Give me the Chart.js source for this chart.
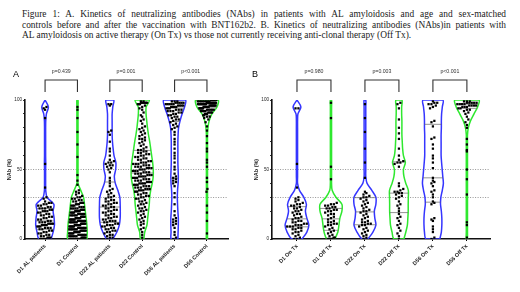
<!DOCTYPE html>
<html>
<head>
<meta charset="utf-8">
<script src="https://cdn.jsdelivr.net/npm/chart.js@4.4.1/dist/chart.umd.min.js"></script>
<style>
  body { margin: 0; width: 520px; height: 292px; background: #fff; position: relative; overflow: hidden; }
  #caption { position: absolute; left: 22px; top: 9px; width: 484px; font-family: "Liberation Serif", "Times New Roman", serif; font-size: 9.4px; line-height: 10.5px; color: #222; }
  #caption .j { text-align: justify; text-align-last: justify; }
  canvas { position: absolute; top: 60px; }
  #panelA { left: 0; }
  #panelB { left: 250px; }
</style>
</head>
<body>
<div id="caption">
  <div class="j">Figure 1: A. Kinetics of neutralizing antibodies (NAbs) in patients with AL amyloidosis and age and sex-matched</div>
  <div class="j">controls before and after the vaccination with BNT162b2. B. Kinetics of neutralizing antibodies (NAbs)in patients with</div>
  <div>AL amyloidosis on active therapy (On Tx) vs those not currently receiving anti-clonal therapy (Off Tx).</div>
</div>
<canvas id="panelA" width="250" height="232"></canvas>
<canvas id="panelB" width="270" height="232"></canvas>
<script>
// categories and p values
var catsA = ['D1 AL patients', 'D1 Control', 'D22 AL patients', 'D22 Control', 'D56 AL patients', 'D56 Control'];
var catsB = ['D1 On Tx', 'D1 Off Tx', 'D22 On Tx', 'D22 Off Tx', 'D56 On Tx', 'D56 Off Tx'];
var pA = ['p=0.439', 'p=0.001', 'p<0.001'];
var pB = ['p=0.980', 'p=0.003', 'p<0.001'];

// NAb (%) values, panel A
var d1AL = [0,0,0,0,0,1,1,1,2,2,3,3,4,4,5,5,6,6,7,7,8,8,8,9,9,9,10,10,10,10,11,11,11,11,12,12,12,13,13,14,14,15,15,16,16,17,17,18,18,19,19,20,20,20,21,21,22,22,22,23,23,24,24,25,25,26,26,27,29,30,37,54,87,93,94,95];
var d1Ctrl = [0,0,0,0,0,0,0,0,0,0,0,0,1,1,1,1,1,2,2,2,2,2,3,3,3,3,3,4,4,4,4,4,5,5,5,5,5,5,6,6,6,6,6,6,7,7,7,7,7,7,8,8,8,8,8,8,9,9,9,9,9,9,10,10,10,10,10,10,10,11,11,11,11,11,11,12,12,12,12,12,12,13,13,13,13,13,13,14,14,14,14,14,14,15,15,15,15,15,15,16,16,16,16,16,17,17,17,17,17,18,18,18,18,18,19,19,19,19,20,20,20,20,20,21,21,21,21,22,22,22,22,23,23,23,24,24,24,25,25,25,26,26,26,27,27,28,28,29,29,30,30,31,32,33,34,35,39,42,46,59,68,77,87,93,95];
var d22AL = [0,1,1,2,3,3,4,5,5,6,6,7,7,8,8,9,9,10,10,10,11,11,12,12,13,13,13,14,14,15,15,16,16,17,17,18,18,19,19,20,20,21,21,22,22,23,23,24,24,25,25,26,26,27,27,28,28,29,30,30,31,32,33,34,35,36,38,40,42,44,48,50,51,52,53,53,54,55,55,56,57,60,63,65,70,75,77,78,96,97,97];
var d22Ctrl = [1,3,5,7,8,10,11,12,13,14,15,16,17,18,19,20,20,21,22,22,23,24,25,25,26,27,27,28,29,29,30,30,31,31,32,32,33,33,34,34,35,35,35,36,36,36,37,37,37,38,38,38,39,39,39,40,40,40,40,41,41,41,42,42,42,43,43,43,44,44,44,45,45,45,45,46,46,46,47,47,47,48,48,48,49,49,49,50,50,50,51,51,51,52,52,52,53,53,53,54,54,54,55,55,55,56,56,57,57,58,58,59,59,60,60,61,61,62,62,63,63,64,64,65,66,67,68,69,70,71,72,72,73,74,75,76,77,78,79,80,81,83,85,86,88,89,91,93,94,95,96,97,97,97,98,98,98,98,98,98,99,99];
var d56AL = [0,1,3,5,8,10,11,12,13,14,15,17,20,25,30,33,38,40,41,42,43,44,45,47,50,52,55,58,60,62,65,68,70,72,75,77,79,80,81,82,83,84,85,86,86,87,88,88,89,89,90,90,91,91,92,92,92,93,93,93,94,94,94,95,95,95,95,96,96,96,96,97,97,97,97,97,98,98,98,98,98,99,99,99];
var d56Ctrl = [4,13,19,24,34,36,41,44,52,55,57,63,65,69,74,78,81,84,86,87,88,88,89,89,90,90,90,91,91,91,91,92,92,92,92,93,93,93,93,93,94,94,94,94,94,94,95,95,95,95,95,95,95,96,96,96,96,96,96,96,96,97,97,97,97,97,97,97,97,97,98,98,98,98,98,98,98,98,98,98,99,99,99,99,99,99,99,99,100,100,100,100];

// NAb (%) values, panel B
var d1On = [0,0,1,2,3,4,5,5,6,7,7,8,8,9,9,9,10,10,10,11,11,12,12,13,13,14,15,15,16,17,18,18,19,20,20,21,22,22,23,24,24,25,25,26,27,28,29,30,37,54,94,94];
var d1Off = [0,0,0,0,0,1,1,2,3,4,5,6,7,8,9,10,10,11,11,12,12,13,14,15,16,17,18,18,19,20,20,21,21,22,22,23,23,24,24,25,25,26,43,52,87,98];
var d22On = [0,1,2,3,4,5,6,7,8,9,10,10,11,11,12,12,13,14,15,16,17,18,19,20,20,21,22,23,24,25,26,27,28,29,30,30,31,32,33,34,44,55,65,77,87,97];
var d22Off = [0,2,4,6,8,10,11,13,15,16,18,20,22,24,25,27,29,30,31,32,33,33,34,34,35,36,38,40,52,54,55,55,56,57,60,65,72,76,80,86,94,97,98];
var d56On = [0,1,5,7,9,13,14,15,25,26,27,30,32,34,35,38,40,41,42,44,51,55,58,60,65,68,72,73,81,84,85,94,95,96,97,97,98,98,99];
var d56Off = [1,10,12,32,43,50,63,64,68,72,80,82,84,86,88,90,91,92,93,93,94,94,95,95,95,96,96,96,96,97,97,97,97,98,98,98,98,98,99,99,99];

// violin relative density at NAb = 0, 5, 10 ... 100
var levels = [0,5,10,15,20,25,30,35,40,45,50,55,60,65,70,75,80,85,90,95,100];
var shapeD1AL   = [0.55,0.73,0.85,0.82,0.73,0.8,0.18,0.06,0.05,0.05,0.05,0.06,0.05,0.05,0.05,0.05,0.05,0.06,0.12,0.3,0];
var shapeD1Ctrl = [0.86,0.89,0.86,0.79,0.71,0.64,0.55,0.3,0.05,0.05,0.05,0.05,0.05,0.05,0.05,0.05,0.05,0.05,0.05,0.05,0.05];
var shapeD22AL  = [0.27,0.64,0.86,0.94,0.95,0.94,0.91,0.73,0.5,0.41,0.53,0.55,0.38,0.3,0.24,0.21,0.21,0.21,0.21,0.27,0.35];
var shapeD22Ctrl= [0.15,0.23,0.43,0.5,0.57,0.64,0.68,0.77,0.91,1,1,0.95,0.86,0.77,0.68,0.57,0.48,0.41,0.35,0.36,0.64];
var shapeD56AL  = [0.3,0.32,0.34,0.34,0.3,0.27,0.25,0.27,0.32,0.34,0.32,0.3,0.3,0.3,0.3,0.32,0.36,0.5,0.68,0.91,0.98];
var shapeD56Ctrl= [0.05,0.05,0.05,0.05,0.05,0.05,0.05,0.05,0.05,0.05,0.05,0.05,0.05,0.05,0.05,0.05,0.09,0.2,0.45,0.91,1];
var shapeD1On   = [0.42,0.83,1,0.83,0.71,0.79,0.58,0.21,0.05,0.05,0.05,0.05,0.05,0.05,0.05,0.05,0.05,0.05,0.08,0.33,0];
var shapeD1Off  = [0.33,0.58,0.67,0.75,0.92,0.92,0.42,0.1,0.05,0.05,0.05,0.05,0.05,0.05,0.05,0.05,0.05,0.05,0.05,0.05,0.05];
var shapeD22On  = [0.25,0.67,0.92,0.83,0.79,0.92,0.92,0.58,0.18,0.07,0.07,0.07,0.07,0.07,0.07,0.07,0.07,0.07,0.07,0.07,0.07];
var shapeD22Off = [0.42,0.58,0.71,0.75,0.78,0.78,0.79,0.79,0.58,0.42,0.38,0.54,0.38,0.31,0.28,0.25,0.25,0.25,0.23,0.23,0.25];
var shapeD56On  = [0.58,0.71,0.75,0.75,0.71,0.64,0.67,0.79,0.88,0.83,0.78,0.73,0.69,0.69,0.69,0.69,0.71,0.71,0.73,0.79,0.83];
var shapeD56Off = [0.05,0.05,0.05,0.05,0.05,0.05,0.05,0.05,0.05,0.05,0.05,0.05,0.05,0.05,0.05,0.05,0.12,0.3,0.6,0.9,1];

var BLUE = '#3535ff';
var GREEN = '#2fe82f';
var FONT = '"Liberation Sans", Arial, sans-serif';

function widthAt(shape, v) {
  var t = v / 5;
  var i = Math.min(Math.floor(t), levels.length - 2);
  var f = t - i;
  return shape[i] * (1 - f) + shape[i + 1] * f;
}

function outline(i, shape, half) {
  var right = levels.map(function (v, j) { return { x: i + shape[j] * half, y: v }; });
  var left = levels.map(function (v, j) { return { x: i - shape[j] * half, y: v }; }).reverse();
  return right.concat(left, [right[0]]);
}

// place points side by side inside the violin, row by row
function spread(i, vals, shape, half, step) {
  var sorted = vals.slice().sort(function (a, b) { return a - b; });
  var bins = {};
  sorted.forEach(function (v) {
    var k = Math.round(v / 2.5);
    (bins[k] = bins[k] || []).push(v);
  });
  var pts = [];
  Object.keys(bins).forEach(function (key) {
    var group = bins[key];
    var n = group.length;
    group.forEach(function (v, k) {
      var room = widthAt(shape, v) * half * 0.85;
      var gap = step;
      if (n > 1 && (n - 1) * gap / 2 > room) gap = 2 * room / (n - 1);
      pts.push({ x: i + (k - (n - 1) / 2) * gap, y: v });
    });
  });
  return pts;
}

function quantile(vals, q) {
  var s = vals.slice().sort(function (a, b) { return a - b; });
  var p = (s.length - 1) * q;
  var lo = Math.floor(p);
  return s[lo] + (s[Math.ceil(p)] - s[lo]) * (p - lo);
}

function quartileLines(i, vals, shape, half) {
  var out = [];
  [0.25, 0.5, 0.75].forEach(function (q) {
    var v = quantile(vals, q);
    var w = widthAt(shape, v) * half;
    out.push({ x: i - w, y: v }, { x: i + w, y: v }, { x: i, y: null });
  });
  return out;
}

var annotate = {
  id: 'annotate',
  afterDraw: function (chart, args, opts) {
    var ctx = chart.ctx, area = chart.chartArea, xs = chart.scales.x;
    ctx.save();
    ctx.strokeStyle = '#333';
    ctx.lineWidth = 1.1;
    ctx.fillStyle = '#333';
    ctx.font = '5.2px ' + FONT;
    ctx.textAlign = 'center';
    ctx.textBaseline = 'middle';
    opts.pvals.forEach(function (p, k) {
      var x1 = xs.getPixelForValue(2 * k), x2 = xs.getPixelForValue(2 * k + 1);
      var top = area.top + opts.barY, leg = area.top + opts.legY;
      ctx.beginPath();
      ctx.moveTo(x1, leg); ctx.lineTo(x1, top); ctx.lineTo(x2, top); ctx.lineTo(x2, leg);
      ctx.stroke();
      ctx.fillText(p, (x1 + x2) / 2, area.top + opts.textY);
    });
    ctx.fillStyle = '#000';
    ctx.font = '9px ' + FONT;
    ctx.textAlign = 'left';
    ctx.fillText(opts.letter, opts.letterX, area.top + opts.letterY);
    ctx.restore();
  }
};

function buildPanel(id, cats, groups, shapes, half, xMin, xMax, pvals, letter, letterX, pad) {
  var datasets = [];
  var pts = [], quarts = [];
  groups.forEach(function (vals, i) {
    pts = pts.concat(spread(i, vals, shapes[i], half, 0.085));
    quarts = quarts.concat(quartileLines(i, vals, shapes[i], half));
  });
  datasets.push({ data: pts, pointStyle: 'rect', pointRadius: 1.6, backgroundColor: '#000', borderWidth: 0, order: 0 });
  datasets.push({ data: quarts, showLine: true, borderColor: '#666', borderWidth: 0.7, pointRadius: 0, spanGaps: false, order: 1 });
  groups.forEach(function (vals, i) {
    datasets.push({
      data: outline(i, shapes[i], half), showLine: true, tension: 0.3,
      borderColor: i % 2 === 0 ? BLUE : GREEN, borderWidth: 1.5, pointRadius: 0, fill: false, order: 2
    });
  });

  return new Chart(document.getElementById(id), {
    type: 'scatter',
    data: { datasets: datasets },
    plugins: [annotate],
    options: {
      responsive: false,
      animation: false,
      layout: { padding: pad },
      plugins: {
        legend: { display: false },
        tooltip: { enabled: false },
        annotate: { pvals: pvals, letter: letter, letterX: letterX, barY: -20, legY: -8, textY: -28, letterY: -25 }
      },
      scales: {
        x: {
          type: 'linear', min: xMin, max: xMax,
          afterBuildTicks: function (axis) { axis.ticks = cats.map(function (c, i) { return { value: i }; }); },
          afterFit: function (axis) { axis.height = 53; },
          ticks: {
            autoSkip: false, minRotation: 45, maxRotation: 45, padding: 2,
            color: '#222', font: { family: FONT, size: 5.5, weight: 'bold' },
            callback: function (v) { return cats[v]; }
          },
          grid: { drawOnChartArea: false, tickLength: 2, tickColor: '#000' },
          border: { color: '#111', width: 1.6 }
        },
        y: {
          min: 0, max: 100,
          afterBuildTicks: function (axis) {
            var t = [];
            for (var v = 0; v <= 100; v += 5) t.push({ value: v });
            axis.ticks = t;
          },
          afterFit: function (axis) { axis.width = 19; },
          ticks: {
            padding: 1, color: '#222', font: { family: FONT, size: 4.6 },
            callback: function (v) { return v % 50 === 0 ? v : ''; }
          },
          grid: {
            tickLength: 2, tickColor: '#000', tickWidth: 0.8, lineWidth: 0.9,
            color: function (c) { return c.tick && (c.tick.value === 30 || c.tick.value === 50) ? '#8a8a8a' : 'rgba(0,0,0,0)'; }
          },
          border: { color: '#111', width: 1.6, dash: [1, 1.5] },
          title: { display: true, text: 'NAb (%)', padding: 0, color: '#222', font: { family: FONT, size: 5.5, weight: 'bold' } }
        }
      }
    }
  });
}

buildPanel('panelA', catsA, [d1AL, d1Ctrl, d22AL, d22Ctrl, d56AL, d56Ctrl],
  [shapeD1AL, shapeD1Ctrl, shapeD22AL, shapeD22Ctrl, shapeD56AL, shapeD56Ctrl],
  0.34, -0.62, 5.65, pA, 'A', 13, { left: 6, top: 40, right: 22, bottom: 0 });

buildPanel('panelB', catsB, [d1On, d1Off, d22On, d22Off, d56On, d56Off],
  [shapeD1On, shapeD1Off, shapeD22On, shapeD22Off, shapeD56On, shapeD56Off],
  0.35, -0.735, 5.68, pB, 'B', 2, { left: 3, top: 40, right: 30, bottom: 0 });
</script>
</body>
</html>
